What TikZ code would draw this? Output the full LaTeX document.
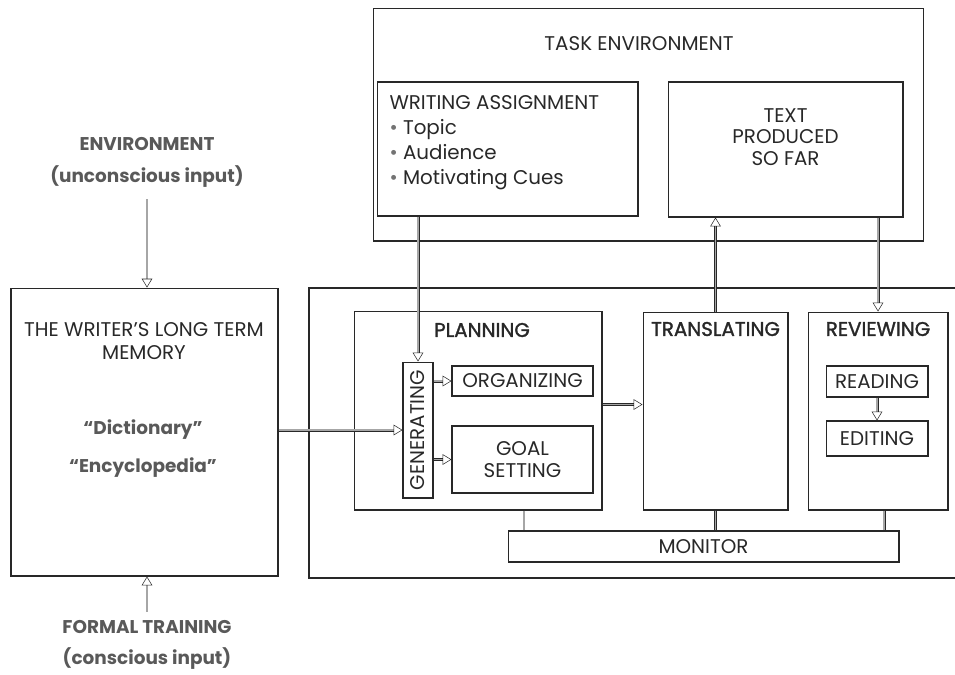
\documentclass[tikz,border=0pt]{standalone}
\usepackage{fontspec}
\setmainfont{Poppins}
\newfontfamily\headfont{Poppins}[FakeBold=1.5]
\usetikzlibrary{arrows.meta, positioning}
\definecolor{ink}{RGB}{40,40,40}

\begin{document}
\begin{tikzpicture}[x=0.02cm, y=-0.02cm,
        box/.style={draw=ink, line width=0.6pt, align=center, inner sep=0pt,
                    font=\fontsize{11.3}{13}\selectfont, text=ink},
        head/.style={font=\fontsize{11.3}{13}\selectfont\headfont, text=ink},
        outer/.style={font=\fontsize{10.5}{13}\selectfont\bfseries, text=black!65, align=center},
        flow/.style={draw=ink, line width=0.3pt, double=black!35, double distance=1.1pt,
                     -{Triangle[open, length=5pt, width=6pt]}},
        link/.style={draw=ink, line width=0.3pt, double=black!35, double distance=1.1pt}
      ]
      \useasboundingbox (0,0) rectangle (955,674);
      % task environment
      \node[box, minimum width=11.02cm, minimum height=4.66cm] (task) at (648.5,124.5) {};
      \node[box, draw=none] (tasklbl) at (639,44) {TASK ENVIRONMENT};
      \node[box, minimum width=5.22cm, minimum height=2.68cm] (wa) at (507.5,149) {};
      \node[box, draw=none, align=left, anchor=west, font=\fontsize{11.3}{14.2}\selectfont]
        (walbl) at (389,143) {WRITING ASSIGNMENT\\
        {\color{black!55}\textbullet}\ Topic\\
        {\color{black!55}\textbullet}\ Audience\\
        {\color{black!55}\textbullet}\ Motivating Cues};
      \node[box, minimum width=4.70cm, minimum height=2.70cm] (tp) at (785.5,149.5) {};
      \node[box, draw=none, font=\fontsize{11.3}{12.3}\selectfont] (tplbl) at (785.5,137) {TEXT\\ PRODUCED\\ SO FAR};
      % long term memory and its inputs
      \node[box, minimum width=5.34cm, minimum height=5.76cm] (ltm) at (144.5,432) {};
      \node[box, draw=none] (ltmlbl) at (144,341) {THE WRITER'S LONG TERM\\ MEMORY};
      \node[outer] (dict) at (143,430) {“Dictionary”};
      \node[outer] (ency) at (143,468) {“Encyclopedia”};
      \node[outer] (env) at (147,144) {ENVIRONMENT};
      \node[outer] (envin) at (147,177) {(unconscious input)};
      \node[outer] (formal) at (147,627) {FORMAL TRAINING};
      \node[outer] (formalin) at (147,659) {(conscious input)};
      % writing processes
      \draw[ink, line width=0.6pt] (955,288) -- (309,288) -- (309,578) -- (955,578);
      \node[box, minimum width=4.96cm, minimum height=3.98cm] (plan) at (478,410.5) {};
      \node[head] (planlbl) at (482,330) {PLANNING};
      \node[box, minimum width=0.60cm, minimum height=2.72cm] (gen) at (418,430)
        {\rotatebox{90}{GENERATING}};
      \node[box, minimum width=2.82cm, minimum height=0.60cm] (org) at (522.5,381) {ORGANIZING};
      \node[box, minimum width=2.82cm, minimum height=1.34cm] (goal) at (522.5,459.5) {GOAL\\ SETTING};
      \node[box, minimum width=2.90cm, minimum height=3.96cm] (trans) at (715.5,411) {};
      \node[head] (translbl) at (715.5,329) {TRANSLATING};
      \node[box, minimum width=2.80cm, minimum height=3.96cm] (rev) at (878,411) {};
      \node[head] (revlbl) at (878,329) {REVIEWING};
      \node[box, minimum width=2.04cm, minimum height=0.62cm] (read) at (877,381.5) {READING};
      \node[box, minimum width=2.04cm, minimum height=0.70cm] (edit) at (877,438.5) {EDITING};
      \node[box, minimum width=7.82cm, minimum height=0.62cm] (mon) at (703.5,546.5) {MONITOR};
      % connectors
      \draw[flow] ([yshift=-0.1cm]envin.south) -- (envin.south |- ltm.north);
      \draw[flow] ([yshift=0.05cm]formal.north) -- (formal.north |- ltm.south);
      \draw[flow] (wa.south -| gen.north) -- (gen.north);
      \draw[flow] (ltm.east |- gen.west) -- (gen.west);
      \draw[flow] (gen.east |- org.west) -- (org.west);
      \draw[flow] (gen.east |- goal.west) -- (goal.west);
      \draw[flow] ([yshift=0.12cm]plan.east) -- ([yshift=0.12cm]plan.east -| trans.west);
      \draw[flow] (trans.north) -- (trans.north |- tp.south);
      \draw[flow] (tp.south -| rev.north) -- (rev.north);
      \draw[flow] (read.south) -- (edit.north);
      \draw[link] ([xshift=0.92cm]plan.south) -- ([xshift=0.92cm]plan.south |- mon.north);
      \draw[link] (trans.south) -- (trans.south |- mon.north);
      \draw[link] ([xshift=0.12cm]rev.south) -- ([xshift=0.12cm]rev.south |- mon.north);
    \end{tikzpicture}
\end{document}
